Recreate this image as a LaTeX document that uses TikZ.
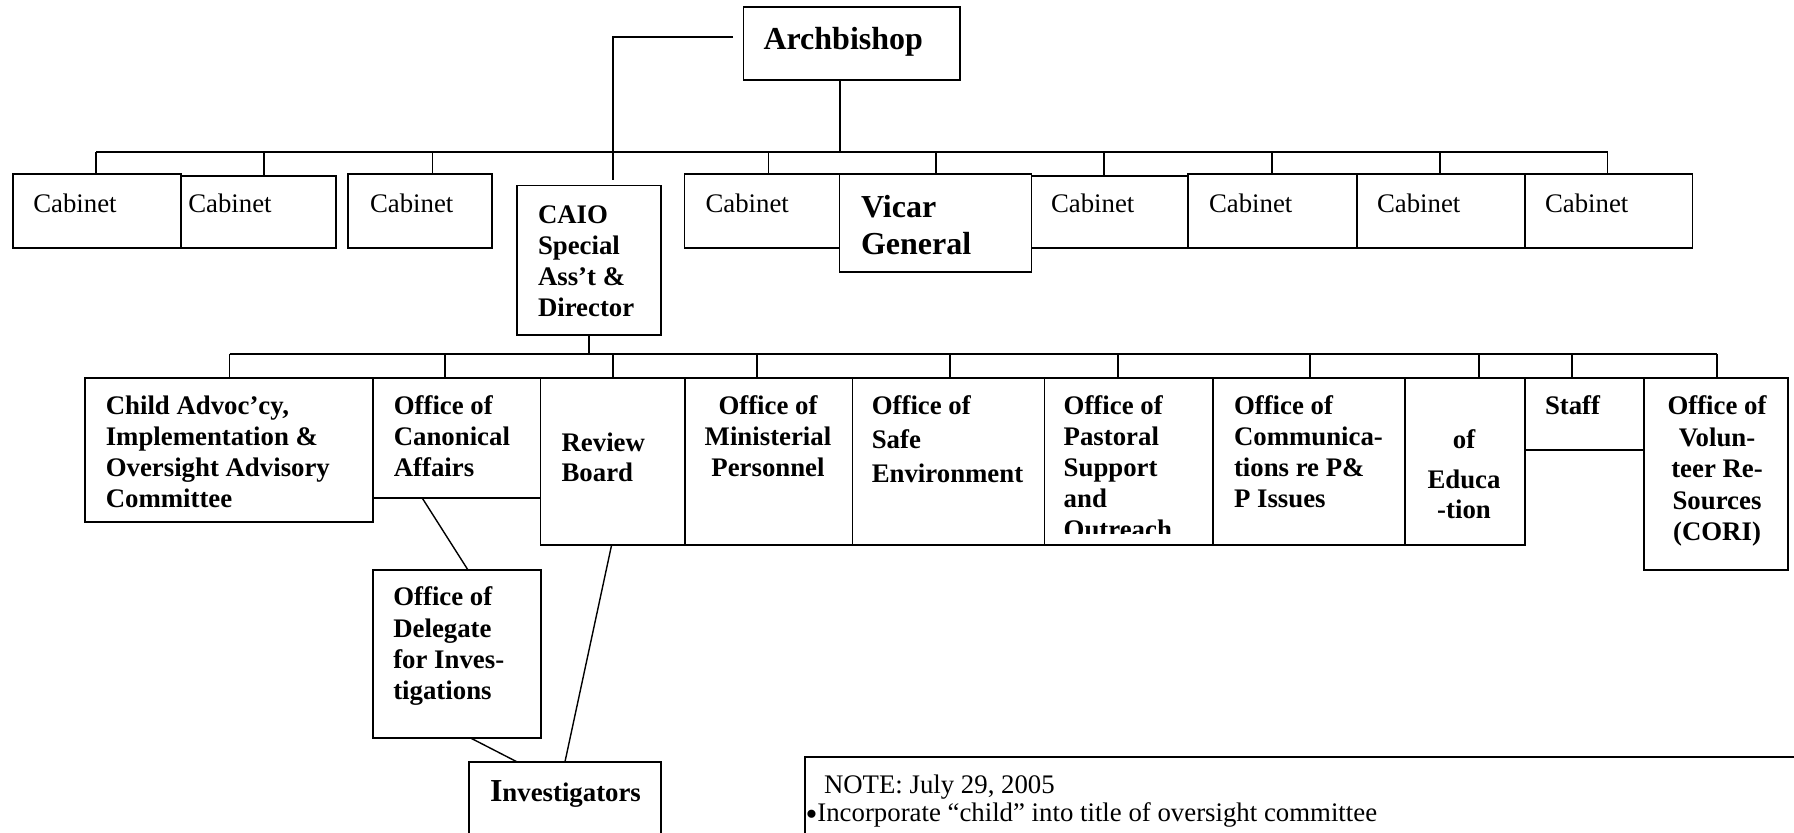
\documentclass[tikz,border=0pt]{standalone}
\usepackage{fontspec}
\setmainfont{Liberation Serif}
\newcommand{\mlines}[2][l]{\begin{tabular}[t]{@{}#1@{}}#2\end{tabular}}
\newcommand{\obx}[5]{\node[obox, minimum width={(#4-#2)*0.5pt}, minimum height={(#5-#3)*0.5pt}] (#1) at (#2,#3) {};}
\begin{document}
\begin{tikzpicture}[x=0.5pt,y=-0.5pt,
  obox/.style={draw, line width=0.85pt, inner sep=0pt, outer sep=0pt, anchor=north west},
  bus/.style={line width=1.35pt},
  busb/.style={line width=0.95pt},
  link/.style={line width=1.15pt},
  tick/.style={line width=0.8pt},
  diag/.style={line width=0.7pt},
  reg/.style={inner sep=0pt, outer sep=0pt, anchor=base west, font=\fontsize{13.4}{15.3}\selectfont},
  bld/.style={inner sep=0pt, outer sep=0pt, anchor=base west, font=\fontsize{13.4}{15.5}\selectfont\bfseries},
  big/.style={inner sep=0pt, outer sep=0pt, anchor=base west, font=\fontsize{16}{18.3}\selectfont\bfseries},
]
\useasboundingbox (0,0) rectangle (1794,833);
\clip (0,0) rectangle (1794,833);

% ---------- boxes ----------
\obx{arch}{743.5}{7}{960}{80}
\obx{cabA}{12.7}{174.3}{181}{247.7}
\obx{cabB}{181}{176}{335.7}{247.7}
\obx{cabC}{348.3}{174.3}{492.3}{247.7}
\obx{caio}{516.7}{185.5}{660.7}{334.7}
\obx{cabD}{684.5}{174.3}{839.5}{247.7}
\obx{cabE}{1031.5}{176}{1188}{247.7}
\obx{cabF}{1188}{174.3}{1357}{247.7}
\obx{cabG}{1357}{174.3}{1525}{247.7}
\obx{cabH}{1525}{174.3}{1692.6}{247.7}
\obx{vicar}{839.5}{174.3}{1031.5}{272}

\obx{child}{85}{378.3}{373}{521.7}
\obx{canon}{373}{378.3}{540.6}{497.7}
\obx{review}{540.6}{378.3}{685}{545}
\obx{minis}{685}{378.3}{852.6}{545}
\obx{safe}{852.6}{378.3}{1044.5}{545}
\obx{past}{1044.5}{378.3}{1213}{545}
\obx{comm}{1213}{378.3}{1404.7}{545}
\obx{edu}{1404.7}{378.3}{1525}{545}
\obx{staff}{1525}{378.3}{1644}{450}
\obx{vol}{1644}{378.3}{1788}{570}
\obx{deleg}{372.7}{570}{541}{737.7}
\obx{inv}{469}{761.7}{661}{900}
\obx{note}{805}{757}{1900}{900}

% ---------- connectors ----------
\coordinate (busL) at (96,152);
\coordinate (busR) at (1607.5,152);
\coordinate (bus2L) at (229.5,354);
\coordinate (bus2R) at (1717,354);
\coordinate (aD) at ([xshift=-5.9pt]arch.south);

\draw[link] ([xshift=-5.25pt,yshift=3.4pt]arch.west) -| ([xshift=12.3pt,yshift=2.75pt]caio.north);
\draw[link] (aD) -- (aD |- busL);
\draw[bus] (busL) -- (busR);
\foreach \x/\t in {96/cabA,264/cabB,432.3/cabC,768.3/cabD,936/vicar,1104/cabE,1272/cabF,1440/cabG,1607.5/cabH}
  \draw[tick] (\x,152) -- (\x,152 |- \t.north);

\draw[link] (caio.south) -- (caio.south |- bus2L);
\draw[busb] (bus2L) -- (bus2R);
\foreach \x/\t in {229.5/child,445/canon,613/review,757/minis,950/safe,1118/past,1310/comm,1479/edu,1572/staff,1717/vol}
  \draw[tick] (\x,354) -- (\x,354 |- \t.north);

\draw[diag] (422,0 |- canon.south) -- (468,0 |- deleg.north);
\draw[diag] (470,0 |- deleg.south) -- (516.7,0 |- inv.north);
\draw[diag] (611.6,0 |- review.south) -- (565,0 |- inv.north);

% ---------- texts ----------
\node[big] (tArch) at (763.5,49.5) {Archbishop};
\foreach \n/\x in {A/33.3,B/188.3,C/370,D/705.5,E/1051,F/1209,G/1377,H/1545}
  \node[reg] (tcab\n) at (\x,213) {Cabinet};
\node[big] (tVicar) at (861,217.5) {\mlines{Vicar\\General}};
\node[bld] (tCaio) at (538,223.5) {\mlines{CAIO\\Special\\Ass’t \&\\Director}};

\node[bld] (tChild) at (105.8,415) {\mlines{Child Advoc’cy,\\Implementation \&\\Oversight Advisory\\Committee}};
\node[bld] (tCanon) at (393.8,415) {\mlines{Office of\\Canonical\\Affairs}};
\node[bld, font=\fontsize{13.4}{15}\selectfont\bfseries] (tReview) at (561.6,451.5) {\mlines{Review\\Board}};
\node[bld, anchor=base] (tMinis) at (768,415) {\mlines[c]{Office of\\Ministerial\\Personnel}};
\node[bld, font=\fontsize{13.4}{16.9}\selectfont\bfseries] (tSafe) at (871.8,415) {\mlines{Office of\\Safe\\Environment}};
\begin{scope}
  \clip (1044.5,378.3) rectangle (1213,534);
  \node[bld, font=\fontsize{13.4}{15.5}\selectfont\bfseries] (tPast) at (1063.7,415) {\mlines{Office of\\Pastoral\\Support\\and\\Outreach}};
\end{scope}
\node[bld] (tComm) at (1234,415) {\mlines{Office of\\Communica-\\tions re P\&\\P Issues}};
\node[bld, anchor=base, font=\fontsize{13.4}{15.2}\selectfont\bfseries] (tEdu) at (1464,448.5) {\mlines[c]{of\\[4.7pt]Educa\\{-}tion}};
\node[bld] (tStaff) at (1545,414.5) {Staff};
\node[bld, anchor=base, font=\fontsize{13.4}{15.7}\selectfont\bfseries] (tVol) at (1717,415) {\mlines[c]{Office of\\Volun-\\teer Re-\\Sources\\(CORI)}};
\node[bld, font=\fontsize{13.4}{15.6}\selectfont\bfseries] (tDeleg) at (393.3,606) {\mlines{Office of\\Delegate\\for Inves-\\tigations}};
\node[bld] (tInv) at (490,801.7) {{\fontsize{16}{16}\selectfont I}nvestigators};

\node[reg] (tNote) at (824,793) {NOTE: July 29, 2005};
\node[reg] (tBul) at (805.5,821) {\raisebox{-2.2pt}{\fontsize{17}{17}\selectfont •}Incorporate “child” into title of oversight committee};
\end{tikzpicture}
\end{document}
